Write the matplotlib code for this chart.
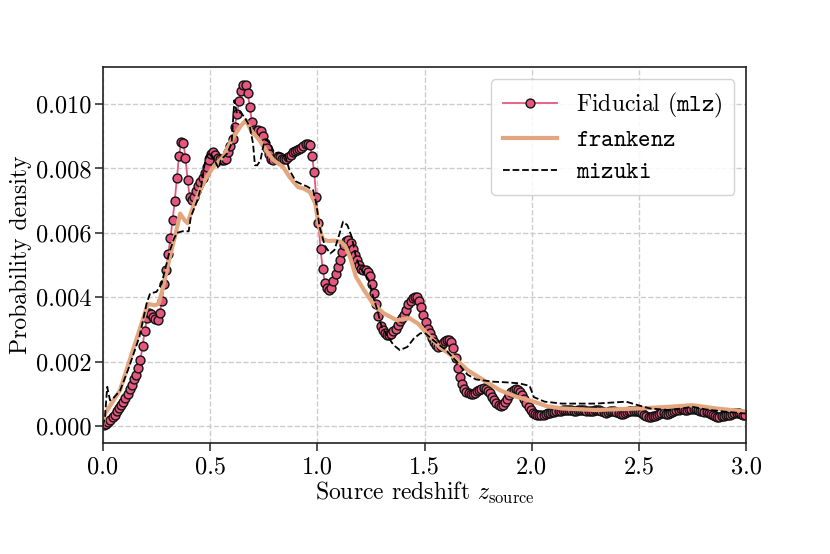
import numpy as np
import matplotlib
matplotlib.use("Agg")
import matplotlib.pyplot as plt

plt.rcParams['font.family'] = 'serif'
plt.rcParams['font.serif'] = ['cmr10', 'DejaVu Serif']
plt.rcParams['mathtext.fontset'] = 'cm'
plt.rcParams['axes.formatter.use_mathtext'] = True

# fiducial (mlz) p(z), bins of width 0.01, values in units of 1e-3
fid_z = np.arange(300) * 0.01 + 0.005
fid_pz = np.array([
    0.02, 0.06, 0.12, 0.20, 0.28, 0.36, 0.46, 0.56, 0.66, 0.76,
    0.88, 1.00, 1.14, 1.28, 1.45, 1.60, 1.80, 2.05, 2.50, 2.95,
    3.35, 3.50, 3.48, 3.40, 3.32, 3.30, 3.50, 3.90, 4.40, 4.85,
    5.35, 5.85, 6.40, 7.00, 7.70, 8.40, 8.83, 8.80, 8.33, 7.63,
    7.10, 7.02, 7.12, 7.30, 7.45, 7.58, 7.70, 7.85, 8.05, 8.25,
    8.45, 8.50, 8.42, 8.33, 8.28, 8.26, 8.26, 8.30, 8.50, 8.70,
    8.90, 9.30, 9.70, 10.10, 10.40, 10.58, 10.60, 10.35, 9.90, 9.45,
    9.20, 9.15, 9.18, 9.15, 9.00, 8.80, 8.65, 8.45, 8.30, 8.27,
    8.30, 8.37, 8.35, 8.30, 8.28, 8.30, 8.35, 8.42, 8.50, 8.55,
    8.58, 8.62, 8.65, 8.70, 8.75, 8.75, 8.73, 8.40, 7.90, 7.12,
    6.30, 5.50, 4.87, 4.45, 4.28, 4.22, 4.30, 4.50, 4.72, 4.95,
    5.17, 5.40, 5.62, 5.76, 5.78, 5.68, 5.50, 5.32, 5.15, 5.00,
    4.87, 4.85, 4.86, 4.80, 4.65, 4.42, 4.12, 3.78, 3.42, 3.12,
    2.98, 2.88, 2.83, 2.82, 2.86, 2.94, 3.03, 3.13, 3.25, 3.35,
    3.45, 3.62, 3.78, 3.90, 3.98, 4.02, 4.00, 3.90, 3.70, 3.45,
    3.22, 3.02, 2.88, 2.75, 2.62, 2.52, 2.47, 2.50, 2.58, 2.65,
    2.68, 2.68, 2.62, 2.42, 2.12, 1.82, 1.54, 1.30, 1.15, 1.07,
    1.03, 1.01, 1.01, 1.04, 1.08, 1.12, 1.15, 1.17, 1.15, 1.10,
    1.02, 0.92, 0.82, 0.72, 0.66, 0.64, 0.67, 0.75, 0.85, 0.96,
    1.05, 1.12, 1.14, 1.12, 1.06, 0.97, 0.85, 0.72, 0.60, 0.50,
    0.42, 0.38, 0.36, 0.35, 0.35, 0.36, 0.38, 0.40, 0.42, 0.44,
    0.45, 0.46, 0.47, 0.48, 0.49, 0.50, 0.50, 0.50, 0.49, 0.48,
    0.48, 0.49, 0.50, 0.51, 0.50, 0.48, 0.47, 0.47, 0.48, 0.50,
    0.51, 0.50, 0.47, 0.44, 0.42, 0.43, 0.46, 0.48, 0.47, 0.44,
    0.40, 0.38, 0.39, 0.42, 0.45, 0.47, 0.48, 0.48, 0.47, 0.46,
    0.44, 0.40, 0.35, 0.31, 0.29, 0.29, 0.30, 0.32, 0.35, 0.38,
    0.40, 0.40, 0.39, 0.39, 0.42, 0.45, 0.48, 0.50, 0.51, 0.52,
    0.52, 0.51, 0.51, 0.52, 0.53, 0.53, 0.52, 0.50, 0.48, 0.46,
    0.45, 0.44, 0.42, 0.38, 0.34, 0.30, 0.28, 0.29, 0.31, 0.33,
    0.35, 0.36, 0.36, 0.38, 0.40, 0.41, 0.40, 0.37, 0.35, 0.34,
]) * 1e-3

frk_z = [0.0, 0.01, 0.08, 0.14, 0.19, 0.21, 0.24, 0.26, 0.28, 0.31, 0.34,
         0.36, 0.38, 0.395, 0.42, 0.45, 0.48, 0.515, 0.56, 0.60, 0.64, 0.667,
         0.69, 0.73, 0.76, 0.795, 0.84, 0.87, 0.91, 0.935, 0.965, 0.99, 1.005,
         1.025, 1.05, 1.08, 1.11, 1.13, 1.155, 1.18, 1.22, 1.26, 1.31, 1.37,
         1.43, 1.47, 1.51, 1.57, 1.635, 1.70, 1.775, 1.85, 1.93, 2.0, 2.07,
         2.14, 2.3, 2.5, 2.64, 2.75, 2.86, 3.0]
frk_pz = np.array([0.10, 0.39, 1.12, 2.36, 3.39, 3.80, 3.75, 3.80, 4.30, 5.20,
                   6.00, 6.60, 6.40, 6.30, 6.81, 7.28, 7.69, 8.05, 8.36, 8.88,
                   9.30, 9.50, 9.19, 8.88, 8.57, 8.26, 8.05, 7.74, 7.42, 7.38,
                   7.27, 6.92, 6.30, 5.80, 5.75, 5.76, 5.72, 5.60, 5.20, 4.64,
                   4.20, 3.80, 3.50, 3.29, 3.35, 3.18, 2.88, 2.46, 2.15, 1.74,
                   1.43, 1.12, 0.91, 0.78, 0.62, 0.55, 0.50, 0.55, 0.60, 0.65,
                   0.55, 0.45]) * 1e-3

miz_z = [0.0, 0.01, 0.02, 0.033, 0.05, 0.08, 0.12, 0.17, 0.204, 0.22, 0.25,
         0.274, 0.297, 0.31, 0.33, 0.345, 0.37, 0.40, 0.41, 0.44, 0.46, 0.47,
         0.48, 0.50, 0.52, 0.54, 0.55, 0.58, 0.60, 0.613, 0.625, 0.64, 0.66,
         0.685, 0.70, 0.709, 0.72, 0.735, 0.748, 0.76, 0.78, 0.80, 0.82, 0.85,
         0.87, 0.90, 0.93, 0.95, 0.98, 0.995, 1.01, 1.035, 1.06, 1.08, 1.10,
         1.12, 1.14, 1.16, 1.18, 1.20, 1.22, 1.24, 1.26, 1.28, 1.30, 1.33,
         1.355, 1.385, 1.42, 1.45, 1.48, 1.50, 1.54, 1.60, 1.65, 1.70, 1.74,
         1.82, 1.88, 1.94, 1.99, 2.01, 2.06, 2.14, 2.3, 2.44, 2.49, 2.55,
         2.64, 2.70, 2.75, 2.81, 2.9, 3.0]
miz_pz = np.array([0.00, 0.30, 1.22, 0.80, 0.88, 1.10, 1.80, 2.77, 3.81, 4.12,
                   4.17, 4.43, 5.05, 5.40, 5.80, 6.00, 6.05, 6.05, 6.50, 7.00,
                   7.50, 7.95, 8.36, 8.50, 8.26, 8.00, 8.26, 8.47, 8.78, 10.12,
                   9.70, 9.75, 9.60, 9.30, 8.78, 8.10, 8.10, 8.26, 8.70, 8.90,
                   8.78, 8.47, 8.50, 8.40, 7.95, 7.60, 7.50, 7.45, 7.33, 6.92,
                   6.20, 5.60, 5.36, 5.47, 5.90, 6.35, 6.24, 5.88, 5.26, 4.90,
                   4.74, 4.53, 4.02, 3.60, 3.08, 2.77, 2.52, 2.36, 2.46, 2.72,
                   2.88, 2.90, 2.67, 2.36, 2.00, 1.60, 1.45, 1.38, 1.36, 1.33,
                   1.25, 0.90, 0.76, 0.70, 0.70, 0.76, 0.66, 0.55, 0.50, 0.55,
                   0.60, 0.52, 0.45, 0.39]) * 1e-3

fig = plt.figure(figsize=(8.3, 5.54), dpi=100)
ax = fig.add_axes([0.124, 0.200, 0.775, 0.679])

ax.plot(fid_z, fid_pz, color='#e5577e', lw=1.3, marker='o', ms=6.4,
        mfc='#e5577e', mec='#111111', mew=1.0, label=r'Fiducial ($\mathtt{mlz}$)')
ax.plot(frk_z, frk_pz, color='#e4a67e', lw=3.0, label=r'$\mathtt{frankenz}$')
ax.plot(miz_z, miz_pz, color='black', lw=1.3, ls='--', label=r'$\mathtt{mizuki}$')

ax.set_xlim(0, 3)
ax.set_ylim(-0.00053, 0.01115)
ax.set_xticks([0, 0.5, 1.0, 1.5, 2.0, 2.5, 3.0])
ax.set_yticks([0, 0.002, 0.004, 0.006, 0.008, 0.010])
ax.set_xticklabels(['0.0', '0.5', '1.0', '1.5', '2.0', '2.5', '3.0'])
ax.set_yticklabels(['0.000', '0.002', '0.004', '0.006', '0.008', '0.010'])
ax.tick_params(direction='out', length=6, width=1.1, labelsize=17.5, color='#222222')
ax.tick_params(axis='y', pad=2)
ax.grid(True, ls='--', color='#cccccc', lw=1.0)
for s in ax.spines.values():
    s.set_color('#222222')
    s.set_linewidth(1.2)

ax.set_xlabel(r'Source redshift $z_{\rm source}$', fontsize=17, labelpad=1)
ax.set_ylabel('Probability density', fontsize=17, labelpad=3)

ax.legend(loc='upper right', fontsize=17, numpoints=1, handlelength=2.3,
          frameon=True, framealpha=0.85, edgecolor='#cccccc', borderpad=0.5,
          labelspacing=0.4)

fig.savefig('out.png', dpi=100)
